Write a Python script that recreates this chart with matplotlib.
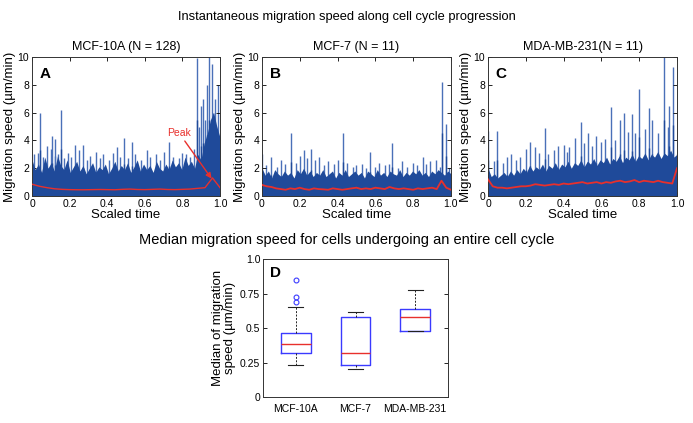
import numpy as np
import matplotlib
matplotlib.use("Agg")
import matplotlib.pyplot as plt

plt.rcParams['font.family'] = ['Liberation Sans', 'DejaVu Sans']

# ---------------- data ----------------
A_body = [2.6,1.9,2.3,1.7,2.8,2.0,2.4,1.8,2.9,2.2,1.9,2.6,1.7,2.1,2.5,1.8,2.2,1.6,2.0,2.4,
          1.7,2.1,1.9,2.3,1.6,2.0,2.5,1.8,2.2,1.9,2.4,1.7,2.1,2.6,1.8,2.3,1.9,2.2,1.7,2.5,
          2.0,1.8,2.3,1.9,2.6,2.1,2.4,1.9,2.8,2.2,2.5,2.0,3.0,2.6,3.8,4.5,5.5,6.0,5.0,4.2]
A_spike_x = [0.01,0.03,0.04,0.06,0.08,0.1,0.106,0.12,0.124,0.14,0.155,0.17,0.19,0.21,0.23,
             0.25,0.27,0.29,0.31,0.34,0.36,0.38,0.41,0.43,0.45,0.47,0.49,0.51,0.53,0.55,
             0.58,0.61,0.63,0.66,0.68,0.7,0.73,0.75,0.78,0.8,0.82,0.84,0.86,0.875,0.89,
             0.9,0.91,0.92,0.93,0.943,0.955,0.965,0.973,0.98,0.99]
A_spike_h = [3.0,3.1,6.0,2.8,3.6,3.4,4.3,2.9,4.1,3.0,6.2,2.7,3.1,2.8,3.7,
             3.3,3.7,2.6,2.9,3.2,2.7,3.0,2.6,3.1,3.5,2.8,4.2,2.7,3.9,3.0,
             2.6,3.3,2.8,3.0,2.6,3.2,3.9,2.8,2.7,3.1,3.0,2.8,3.4,9.9,5.0,
             6.5,7.0,5.5,8.0,10.0,9.5,6.0,7.0,5.0,8.0]
A_median = [0.85,0.7,0.6,0.52,0.48,0.46,0.45,0.45,0.46,0.47,0.46,0.45,0.48,0.5,0.47,0.46,
            0.48,0.5,0.47,0.46,0.48,0.5,0.55,0.6,1.3,0.6]

B_body = [2.0,1.5,1.8,1.3,1.9,1.6,1.4,1.8,1.5,1.7,1.3,1.9,1.6,2.0,1.5,1.8,1.4,1.7,1.5,1.9,
          1.4,1.6,1.8,1.3,1.7,1.5,1.9,1.4,1.6,1.8,1.5,1.7,1.3,1.8,1.6,1.4,1.9,1.5,1.7,1.4,
          1.8,1.6,1.5,1.9,1.4,1.7,1.5,1.8,1.6,1.9,1.5,1.7,1.4,1.8,1.6,1.9,1.7,1.5,1.8,1.6]
B_spike_x = [0.0,0.02,0.05,0.08,0.1,0.12,0.155,0.18,0.2,0.22,0.24,0.26,0.28,0.3,0.33,
             0.35,0.38,0.4,0.43,0.45,0.48,0.5,0.53,0.55,0.57,0.6,0.62,0.65,0.67,0.69,
             0.72,0.74,0.77,0.8,0.82,0.85,0.87,0.89,0.92,0.94,0.955,0.975,0.99]
B_spike_h = [3.0,2.2,2.8,2.1,2.6,2.3,4.5,2.4,2.9,3.3,2.7,3.4,2.6,2.8,2.2,
             2.5,2.3,2.6,4.5,2.4,2.1,2.2,2.3,2.0,3.2,2.1,2.4,2.2,2.3,3.8,
             2.0,2.5,2.1,2.4,2.2,2.8,2.3,2.5,2.6,2.1,8.2,5.2,2.0]
B_median = [0.8,0.7,0.65,0.55,0.5,0.45,0.55,0.5,0.6,0.5,0.45,0.55,0.5,0.48,0.45,0.55,0.5,
            0.45,0.5,0.55,0.6,0.5,0.55,0.5,0.6,0.55,0.5,0.65,0.55,0.5,0.55,0.5,0.45,0.55,
            0.5,0.55,0.6,0.5,1.1,0.6,0.45]

C_body = [2.0,1.4,1.6,1.3,1.5,1.7,1.4,1.8,1.5,1.9,1.6,2.0,1.7,2.2,1.8,2.1,1.9,2.3,1.8,2.2,
          2.0,2.4,1.9,2.3,2.1,2.5,2.0,2.4,2.2,2.6,2.1,2.5,2.3,2.7,2.2,2.6,2.4,2.8,2.3,2.7,
          2.5,2.9,2.4,2.8,2.6,3.0,2.5,2.9,2.7,3.1,2.6,3.0,2.8,3.2,2.7,3.1,2.9,3.3,2.8,3.0]
C_spike_x = [0.0,0.03,0.05,0.08,0.1,0.12,0.15,0.17,0.2,0.22,0.25,0.27,0.3,0.32,0.35,
             0.37,0.4,0.42,0.43,0.46,0.49,0.51,0.53,0.55,0.57,0.6,0.62,0.65,0.67,0.7,
             0.72,0.74,0.76,0.78,0.8,0.83,0.85,0.87,0.9,0.93,0.95,0.96,0.98,1.0]
C_spike_h = [4.7,2.5,4.7,2.4,2.8,3.0,2.6,2.8,3.4,3.9,3.5,3.1,4.9,3.0,3.3,
             3.6,3.7,3.2,3.5,4.2,5.3,3.8,4.5,3.6,4.3,3.9,4.1,6.4,4.0,5.5,
             6.0,4.6,5.9,4.5,7.7,4.8,6.3,5.5,4.5,10.0,5.0,6.5,9.3,3.0]
C_median = [1.2,0.7,0.6,0.6,0.55,0.6,0.65,0.7,0.7,0.75,0.85,0.8,0.75,0.8,0.85,0.8,0.9,0.85,
            0.9,0.95,1.0,0.9,0.95,1.0,0.9,1.0,0.95,1.05,1.1,1.0,1.05,1.15,1.0,1.1,1.05,1.0,
            1.1,1.0,0.95,0.9,2.0]

panel_titles = ["MCF-10A (N = 128)", "MCF-7 (N = 11)", "MDA-MB-231(N = 11)"]
panel_letters = ["A", "B", "C"]

box_labels = ["MCF-10A", "MCF-7", "MDA-MB-231"]
box_whislo = [0.235, 0.205, 0.48]
box_q1 = [0.32, 0.23, 0.48]
box_med = [0.385, 0.32, 0.58]
box_q3 = [0.465, 0.58, 0.64]
box_whishi = [0.655, 0.615, 0.775]
box_fliers = [[0.69, 0.725, 0.85], [], []]

# ---------------- figure ----------------
fig = plt.figure(figsize=(6.93, 4.23), dpi=100)

BODY = '#1f4a9a'
SPIKE = '#4a70b8'
RED = '#e8302c'

def style_axes(ax):
    ax.tick_params(direction='in', top=True, right=True, labelsize=7.5, length=3, width=0.6, pad=2)
    for s in ax.spines.values():
        s.set_linewidth(0.7)
        s.set_color('#333333')

positions = [[0.0462, 0.5366, 0.2713, 0.3286],
             [0.378, 0.5366, 0.2727, 0.3286],
             [0.7042, 0.5366, 0.2727, 0.3286]]
datasets = [(A_body, A_spike_x, A_spike_h, A_median),
            (B_body, B_spike_x, B_spike_h, B_median),
            (C_body, C_spike_x, C_spike_h, C_median)]

for i, (pos, (body, sx, sh, med)) in enumerate(zip(positions, datasets)):
    ax = fig.add_axes(pos)
    bx = np.linspace(0, 1, len(body))
    ax.fill_between(bx, 0, body, color=BODY, lw=0, zorder=2)
    ax.vlines(sx, 0, sh, color=SPIKE, lw=1.0, zorder=1)
    ax.vlines(sx, 0, np.array(sh) * 0.55, color=BODY, lw=1.0, zorder=2)
    mx = np.linspace(0, 1, len(med))
    ax.plot(mx, med, color=RED, lw=1.0 if i == 0 else 1.3, zorder=3)
    ax.set_xlim(0, 1)
    ax.set_ylim(0, 10)
    ax.set_xticks([0, 0.2, 0.4, 0.6, 0.8, 1.0])
    ax.set_xticklabels(["0", "0.2", "0.4", "0.6", "0.8", "1.0"])
    ax.set_yticks([0, 2, 4, 6, 8, 10])
    ax.set_yticklabels(["0", "2", "4", "6", "8", "10"])
    style_axes(ax)
    ax.set_title(panel_titles[i], fontsize=9, pad=5)
    ax.set_xlabel("Scaled time", fontsize=9.5, labelpad=0)
    ax.set_ylabel("Migration speed (µm/min)", fontsize=9.5, labelpad=1)
    ax.text(0.04, 0.93, panel_letters[i], transform=ax.transAxes, fontsize=11,
            fontweight='bold', va='top', ha='left')
    if i == 0:
        ax.annotate("Peak", xy=(0.955, 1.25), xytext=(0.72, 4.3),
                    color=RED, fontsize=7.5,
                    arrowprops=dict(arrowstyle='-|>', color=RED, lw=1.0,
                                    mutation_scale=8, shrinkA=0, shrinkB=0))

fig.text(0.5, 0.96, "Instantaneous migration speed along cell cycle progression",
         ha='center', va='center', fontsize=9.3)
fig.text(0.5, 0.432, "Median migration speed for cells undergoing an entire cell cycle",
         ha='center', va='center', fontsize=10.5)

# box plot panel
axd = fig.add_axes([0.3795, 0.0615, 0.267, 0.326])
stats = []
for k in range(len(box_labels)):
    stats.append(dict(label=box_labels[k], whislo=box_whislo[k], q1=box_q1[k],
                      med=box_med[k], q3=box_q3[k], whishi=box_whishi[k],
                      fliers=box_fliers[k]))
axd.bxp(stats, positions=[1, 2, 3], widths=0.5, showfliers=True,
        boxprops=dict(color='#3a3aff', lw=1.0),
        medianprops=dict(color=RED, lw=1.0),
        whiskerprops=dict(color='#222222', lw=0.7, linestyle=(0, (2, 1.5))),
        capprops=dict(color='#222222', lw=0.8),
        flierprops=dict(marker='o', markerfacecolor='none', markeredgecolor='#3a3aff',
                        markersize=3.5, markeredgewidth=0.8))
axd.set_xlim(0.45, 3.55)
axd.set_ylim(0, 1.0)
axd.set_yticks([0, 0.25, 0.5, 0.75, 1.0])
axd.set_yticklabels(["0", "0.25", "0.5", "0.75", "1.0"])
style_axes(axd)
axd.tick_params(axis='x', length=0, pad=5)
axd.set_ylabel("Median of migration\nspeed (µm/min)", fontsize=9.5, labelpad=3, linespacing=1.0)
axd.text(0.04, 0.95, "D", transform=axd.transAxes, fontsize=11, fontweight='bold',
         va='top', ha='left')

fig.savefig("out.png", dpi=100)
